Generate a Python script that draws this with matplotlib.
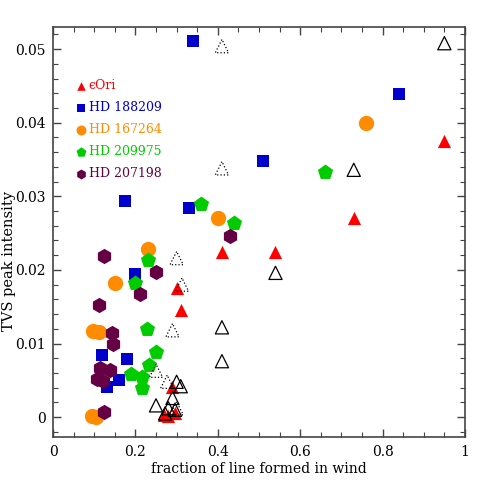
"""TVS peak intensity versus fraction of line formed in wind."""

import matplotlib.pyplot as plt
from matplotlib.ticker import MultipleLocator, FixedLocator, FixedFormatter


# eps Ori (filled red triangles)
eps_x = [0.27, 0.28, 0.295, 0.29, 0.30, 0.31, 0.41, 0.54, 0.73, 0.95]
eps_y = [0.0003, 0.0001, 0.0005, 0.0041, 0.0175, 0.0145, 0.0224, 0.0224, 0.0270, 0.0375]

# HD 188209 (blue squares)
hd188209_x = [0.34, 0.84, 0.51, 0.175, 0.33, 0.20, 0.12, 0.18, 0.13, 0.16]
hd188209_y = [0.0511, 0.0439, 0.0348, 0.0293, 0.0284, 0.0194, 0.0085, 0.0079, 0.0041, 0.0050]

# HD 167264 (orange circles)
hd167264_x = [0.76, 0.40, 0.23, 0.15, 0.097, 0.112, 0.095, 0.104]
hd167264_y = [0.0400, 0.0270, 0.0228, 0.0182, 0.0117, 0.0116, 0.0001, 0.0000]

# HD 209975 (green pentagons)
hd209975_x = [0.66, 0.36, 0.44, 0.23, 0.20, 0.228, 0.25, 0.233, 0.19, 0.215, 0.215]
hd209975_y = [0.0333, 0.0289, 0.0264, 0.0213, 0.0182, 0.0120, 0.0089, 0.0071, 0.0058, 0.0055, 0.0040]

# HD 207198 (maroon hexagons)
hd207198_x = [0.43, 0.25, 0.21, 0.124, 0.112, 0.143, 0.146, 0.114, 0.138, 0.107, 0.122, 0.124]
hd207198_y = [0.0246, 0.0197, 0.0167, 0.0219, 0.0152, 0.0114, 0.0099, 0.0067, 0.0064, 0.0052, 0.0049, 0.0007]

# open triangles (solid outline)
open_x = [0.95, 0.73, 0.54, 0.41, 0.41, 0.25, 0.29, 0.30, 0.31, 0.28, 0.296, 0.272]
open_y = [0.0508, 0.0336, 0.0196, 0.0122, 0.0076, 0.0016, 0.0026, 0.0048, 0.0042, 0.0012, 0.0010, 0.0005]

# open triangles (dotted outline)
dotted_x = [0.41, 0.41, 0.30, 0.313, 0.29, 0.25, 0.277, 0.30]
dotted_y = [0.0504, 0.0338, 0.0216, 0.0180, 0.0118, 0.0063, 0.0048, 0.0012]

x_ticks = [0, 0.2, 0.4, 0.6, 0.8, 1.0]
x_tick_labels = ["0", "0.2", "0.4", "0.6", "0.8", "1"]
y_ticks = [0, 0.01, 0.02, 0.03, 0.04, 0.05]
y_tick_labels = ["0", "0.01", "0.02", "0.03", "0.04", "0.05"]

RED = "#ff0000"
BLUE = "#0000cc"
ORANGE = "#ff8c00"
GREEN = "#00cc00"
MAROON = "#660044"

plt.rcParams["font.family"] = ["DejaVu Serif"]

fig = plt.figure(figsize=(4.91, 4.91), dpi=100)
ax = fig.add_axes([0.108, 0.110, 0.839, 0.835])

ax.scatter(eps_x, eps_y, marker="^", s=9.5 ** 2, color=RED, linewidths=0,
           label="\u03f5Ori", zorder=3)
ax.scatter(hd188209_x, hd188209_y, marker="s", s=8 ** 2, color=BLUE, linewidths=0,
           label="HD 188209", zorder=3)
ax.scatter(hd167264_x, hd167264_y, marker="o", s=11 ** 2, color=ORANGE, linewidths=0,
           label="HD 167264", zorder=3)
ax.scatter(hd209975_x, hd209975_y, marker="p", s=11.5 ** 2, color=GREEN, linewidths=0,
           label="HD 209975", zorder=3)
ax.scatter(hd207198_x, hd207198_y, marker="h", s=11 ** 2, color=MAROON, linewidths=0,
           label="HD 207198", zorder=3)

ax.scatter(open_x, open_y, marker="^", s=9.5 ** 2, facecolors="none",
           edgecolors="black", linewidths=0.9, zorder=4)
ax.scatter(dotted_x, dotted_y, marker="^", s=9.5 ** 2, facecolors="none",
           edgecolors="black", linewidths=0.9, linestyles=":", zorder=4)

ax.set_xlim(0, 1)
ax.set_ylim(-0.0027, 0.053)

ax.xaxis.set_major_locator(FixedLocator(x_ticks))
ax.xaxis.set_major_formatter(FixedFormatter(x_tick_labels))
ax.xaxis.set_minor_locator(MultipleLocator(0.05))
ax.yaxis.set_major_locator(FixedLocator(y_ticks))
ax.yaxis.set_major_formatter(FixedFormatter(y_tick_labels))
ax.yaxis.set_minor_locator(MultipleLocator(0.002))

ax.tick_params(which="both", direction="in", top=True, right=True,
               color="#444444", labelsize=10)
ax.tick_params(which="major", length=6, width=1.0)
ax.tick_params(which="minor", length=3.5, width=0.8)
ax.tick_params(axis="x", which="major", pad=6)
ax.tick_params(axis="y", which="major", pad=5)
for spine in ax.spines.values():
    spine.set_color("#444444")
    spine.set_linewidth(1.2)

ax.set_xlabel("fraction of line formed in wind", fontsize=10, labelpad=2)
ax.set_ylabel("TVS peak intensity", fontsize=10.5)
ax.yaxis.set_label_coords(-0.09, 0.43)

ax.legend(loc="upper left", bbox_to_anchor=(0.035, 0.895), frameon=False,
          labelcolor="markerfacecolor", markerscale=0.65, handlelength=0.8,
          handletextpad=0.2, labelspacing=0.72, fontsize=9, borderpad=0.2)

fig.savefig("out.png", dpi=100)
